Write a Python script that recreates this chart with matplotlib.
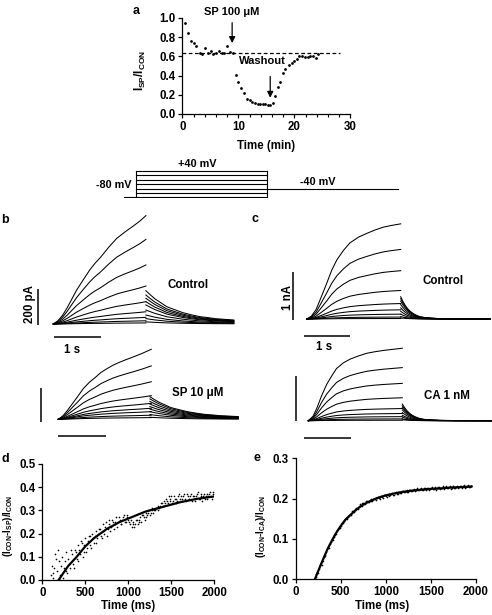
import numpy as np
import matplotlib
matplotlib.use('Agg')
import matplotlib.pyplot as plt
from matplotlib.ticker import MultipleLocator, FormatStrFormatter

plt.rcParams['font.family'] = ['Liberation Sans', 'DejaVu Sans']
plt.rcParams['font.weight'] = 'bold'
plt.rcParams['mathtext.fontset'] = 'custom'
plt.rcParams['mathtext.rm'] = 'Liberation Sans:bold'
plt.rcParams['mathtext.bf'] = 'Liberation Sans:bold'
plt.rcParams['mathtext.it'] = 'Liberation Sans:bold'
plt.rcParams['mathtext.default'] = 'bf'

# ---------------- data ----------------
# panel a: time course of I_SP/I_CON
a_time = [0.49, 1.06, 1.58, 2.1, 2.52, 3.14, 3.56, 4.08, 4.6, 5.12, 5.54, 6.06, 6.58, 7.0, 7.52, 8.04, 8.56, 8.97,
          9.6, 10.0, 10.5, 11.1, 11.5, 12.0, 12.4, 12.9, 13.45, 13.9, 14.4, 14.8, 15.3, 15.7, 16.2, 16.6, 17.0, 17.5,
          18.0, 18.4, 19.1, 19.6, 20.0, 20.4, 20.9, 21.4, 21.9, 22.4, 22.8, 23.3, 23.8, 24.3]
a_ratio = [0.95, 0.84, 0.76, 0.74, 0.71, 0.64, 0.63, 0.69, 0.64, 0.66, 0.62, 0.64, 0.66, 0.64, 0.64, 0.71, 0.65, 0.64,
           0.41, 0.33, 0.27, 0.22, 0.16, 0.15, 0.12, 0.11, 0.10, 0.10, 0.10, 0.10, 0.09, 0.09, 0.11, 0.19, 0.28, 0.33,
           0.43, 0.47, 0.51, 0.53, 0.55, 0.57, 0.60, 0.60, 0.59, 0.59, 0.60, 0.60, 0.58, 0.62]
a_ref_level = 0.635
a_sp_time = 8.9
a_wash_time = 15.7

# voltage protocol (mV, s)
prot_levels = [40, 20, 0, -20, -40, -60, -80]
prot_hold = -80
prot_tail = -40
prot_pre, prot_step, prot_tail_dur = 0.18, 2.0, 2.0

# panel b: currents (pA). normalised activation / tail time courses and amplitudes
b_con_t = [0, 0.1, 0.2, 0.3, 0.4, 0.5, 0.65, 0.79, 0.9, 1.01, 1.2, 1.37, 1.55, 1.73, 1.87, 2.0]
b_con_shape = [0, 0.03, 0.08, 0.15, 0.23, 0.31, 0.41, 0.50, 0.56, 0.61, 0.71, 0.79, 0.85, 0.905, 0.95, 1.0]
b_sp_t = [0, 0.1, 0.2, 0.3, 0.4, 0.54, 0.67, 0.8, 0.92, 1.04, 1.17, 1.3, 1.45, 1.61, 1.8, 2.0]
b_sp_shape = [0, 0.05, 0.13, 0.22, 0.31, 0.44, 0.53, 0.60, 0.67, 0.72, 0.77, 0.81, 0.85, 0.89, 0.94, 1.0]
b_tail_t = [0, 0.1, 0.2, 0.3, 0.45, 0.6, 0.8, 1.0, 1.17, 1.35, 1.5, 1.7, 1.9]
b_tail_shape = [1, 0.87, 0.75, 0.66, 0.52, 0.44, 0.34, 0.27, 0.22, 0.19, 0.16, 0.14, 0.12]
b_con_amp = [602, 470, 328, 211, 124, 68, 37, 18, 6]
b_con_tail = [185, 161, 143, 124, 106, 78, 50, 30, 12]
b_sp_amp = [412, 314, 221, 139, 94, 65, 45, 24, 10]
b_sp_tail = [133, 120, 105, 90, 75, 60, 45, 28, 12]

# panel c: currents (nA)
c_con_t = [0, 0.1, 0.2, 0.3, 0.43, 0.53, 0.64, 0.78, 0.92, 1.1, 1.28, 1.45, 1.63, 1.8, 2.0]
c_con_shape = [0, 0.03, 0.10, 0.22, 0.38, 0.51, 0.62, 0.72, 0.80, 0.86, 0.90, 0.935, 0.965, 0.983, 1.0]
c_ca_t = [0, 0.1, 0.18, 0.28, 0.39, 0.5, 0.6, 0.75, 0.89, 1.05, 1.24, 1.4, 1.6, 1.8, 2.0]
c_ca_shape = [0, 0.06, 0.17, 0.34, 0.50, 0.62, 0.72, 0.80, 0.85, 0.89, 0.93, 0.95, 0.97, 0.985, 1.0]
c_tail_t = [0, 0.05, 0.1, 0.15, 0.2, 0.27, 0.35, 0.42, 0.5, 0.65, 0.8, 1.2, 1.9]
c_tail_shape = [1, 0.78, 0.6, 0.46, 0.35, 0.24, 0.15, 0.1, 0.07, 0.04, 0.02, 0.005, 0.0]
c_con_amp = [1.97, 1.44, 1.0, 0.59, 0.32, 0.19, 0.10, 0.04, 0.01]
c_con_tail = [0.46, 0.42, 0.37, 0.30, 0.23, 0.16, 0.10, 0.05, 0.02]
c_ca_amp = [1.61, 1.18, 0.83, 0.51, 0.27, 0.16, 0.09, 0.04, 0.01]
c_ca_tail = [0.37, 0.33, 0.29, 0.24, 0.18, 0.12, 0.08, 0.04, 0.02]

# panel d: (I_CON - I_SP)/I_CON vs time (ms)
d_fit_t = [190, 300, 400, 500, 600, 750, 900, 1000, 1200, 1400, 1600, 1800, 2000]
d_fit_v = [0, 0.06, 0.10, 0.145, 0.18, 0.22, 0.25, 0.265, 0.295, 0.315, 0.335, 0.35, 0.36]
d_pts1 = [0.02, 0.01, 0.05, 0.09, 0.13, 0.02, 0.06, 0.01, 0.08, 0.04, 0.09, 0.05, 0.11, 0.07, 0.13, 0.09,
          0.15, 0.11, 0.16, 0.12, 0.18, 0.14, 0.19, 0.15, 0.20, 0.16, 0.21, 0.18, 0.22, 0.19, 0.24, 0.20,
          0.25, 0.22, 0.26, 0.23, 0.25, 0.24, 0.27, 0.25, 0.26, 0.24, 0.27, 0.25, 0.28, 0.26, 0.24, 0.23,
          0.25, 0.24, 0.26, 0.25, 0.27, 0.28, 0.27, 0.29, 0.28, 0.30, 0.29, 0.31, 0.30, 0.31, 0.32, 0.31,
          0.33, 0.32, 0.34, 0.35, 0.33, 0.34, 0.36, 0.34, 0.35, 0.33, 0.36, 0.35, 0.34, 0.36, 0.35, 0.37,
          0.35, 0.36, 0.34, 0.36, 0.35, 0.37, 0.35, 0.36, 0.34, 0.37, 0.36, 0.35, 0.37, 0.36, 0.38]
d_pts2 = [0.06, 0.03, 0.11, 0.04, 0.08, 0.00, 0.10, 0.05, 0.12, 0.03, 0.07, 0.13, 0.08, 0.05, 0.12, 0.08,
          0.13, 0.17, 0.10, 0.15, 0.12, 0.17, 0.19, 0.14, 0.18, 0.19, 0.16, 0.20, 0.22, 0.18, 0.21, 0.23,
          0.19, 0.24, 0.21, 0.26, 0.22, 0.25, 0.23, 0.27, 0.24, 0.26, 0.28, 0.25, 0.27, 0.25, 0.26, 0.24,
          0.23, 0.26, 0.24, 0.26, 0.25, 0.28, 0.26, 0.27, 0.29, 0.28, 0.30, 0.29, 0.30, 0.31, 0.30, 0.32,
          0.33, 0.32, 0.33, 0.34, 0.36, 0.35, 0.33, 0.36, 0.35, 0.34, 0.37, 0.36, 0.35, 0.37, 0.34, 0.36,
          0.35, 0.37, 0.36, 0.34, 0.36, 0.38, 0.35, 0.37, 0.36, 0.35, 0.37, 0.36, 0.38, 0.35, 0.37]

# panel e: (I_CON - I_CA)/I_CON vs time (ms)
e_fit_t = [214, 250, 300, 350, 400, 450, 500, 550, 600, 650, 700, 750, 800, 900, 1000, 1100, 1200, 1300,
           1400, 1500, 1600, 1700, 1800, 1900, 1950]
e_fit_v = [0, 0.02, 0.047, 0.073, 0.095, 0.115, 0.132, 0.147, 0.158, 0.168, 0.177, 0.185, 0.191, 0.201,
           0.208, 0.213, 0.217, 0.220, 0.222, 0.224, 0.225, 0.227, 0.228, 0.229, 0.23]
e_pts1 = [0.005, 0.018, 0.026, 0.040, 0.045, 0.060, 0.066, 0.080, 0.086, 0.097, 0.104, 0.112, 0.121, 0.127,
          0.132, 0.141, 0.144, 0.152, 0.155, 0.160, 0.165, 0.168, 0.174, 0.176, 0.181, 0.184, 0.190, 0.187,
          0.193, 0.192, 0.196, 0.195, 0.199, 0.198, 0.202, 0.201, 0.205, 0.203, 0.208, 0.206, 0.210, 0.207,
          0.212, 0.209, 0.214, 0.211, 0.216, 0.213, 0.218, 0.215, 0.219, 0.216, 0.221, 0.218, 0.222, 0.219,
          0.223, 0.220, 0.224, 0.221, 0.226, 0.222, 0.225, 0.221, 0.227, 0.223, 0.226, 0.222, 0.228, 0.224,
          0.227, 0.223, 0.229, 0.225, 0.228, 0.224, 0.230, 0.226, 0.229, 0.225, 0.231, 0.227, 0.230, 0.226,
          0.232, 0.228, 0.231]
e_pts2 = [0.012, 0.015, 0.035, 0.036, 0.054, 0.058, 0.075, 0.078, 0.093, 0.096, 0.110, 0.113, 0.125, 0.126,
          0.138, 0.140, 0.150, 0.150, 0.160, 0.159, 0.168, 0.167, 0.176, 0.175, 0.186, 0.182, 0.189, 0.186,
          0.195, 0.191, 0.198, 0.195, 0.200, 0.197, 0.204, 0.200, 0.206, 0.202, 0.209, 0.205, 0.211, 0.208,
          0.213, 0.210, 0.215, 0.212, 0.217, 0.214, 0.219, 0.216, 0.220, 0.217, 0.222, 0.219, 0.223, 0.220,
          0.225, 0.221, 0.226, 0.222, 0.227, 0.223, 0.227, 0.224, 0.228, 0.224, 0.229, 0.225, 0.229, 0.225,
          0.230, 0.226, 0.230, 0.226, 0.231, 0.227, 0.231, 0.227, 0.232, 0.228, 0.232, 0.228, 0.233, 0.229,
          0.233, 0.229, 0.232]

# ---------------- figure ----------------
W, H = 492, 615
fig = plt.figure(figsize=(W / 100, H / 100), dpi=100)
FS = 8.3


def rect_px(x0, y0, x1, y1):
    return [x0 / W, 1 - y1 / H, (x1 - x0) / W, (y1 - y0) / H]


def ftext(x, y, s, **kw):
    kw.setdefault('ha', 'center')
    kw.setdefault('va', 'center')
    kw.setdefault('fontsize', FS)
    kw.setdefault('fontweight', 'bold')
    fig.text(x / W, 1 - y / H, s, **kw)


def mapped_axes(ox, oy, sx, sy, xlim, ylim):
    x0 = ox + xlim[0] * sx
    x1 = ox + xlim[1] * sx
    y1 = oy - ylim[0] * sy
    y0 = oy - ylim[1] * sy
    ax = fig.add_axes(rect_px(x0, y0, x1, y1))
    ax.set_xlim(xlim)
    ax.set_ylim(ylim)
    ax.axis('off')
    return ax


def style_axes(ax):
    for s in ['top', 'right']:
        ax.spines[s].set_visible(False)
    for s in ['left', 'bottom']:
        ax.spines[s].set_linewidth(0.9)
    ax.tick_params(direction='out', length=3, width=0.9, labelsize=FS, pad=2)
    ax.tick_params(which='minor', direction='out', length=2, width=0.8)
    for lab in ax.get_xticklabels() + ax.get_yticklabels():
        lab.set_fontweight('bold')


# ---- panel a ----
ax_a = fig.add_axes(rect_px(182.3, 18, 350.3, 114))
ax_a.set_xlim(0, 30)
ax_a.set_ylim(0, 1.0)
ax_a.plot(a_time, a_ratio, 'o', color='k', ms=2.0, mec='none', clip_on=False)
ax_a.plot([0, 28.2], [a_ref_level, a_ref_level], ls=(0, (3, 2)), color='k', lw=0.9)
ax_a.set_xticks([0, 10, 20, 30])
ax_a.xaxis.set_minor_locator(MultipleLocator(2))
ax_a.set_yticks([0, 0.2, 0.4, 0.6, 0.8, 1.0])
ax_a.yaxis.set_major_formatter(FormatStrFormatter('%.1f'))
style_axes(ax_a)
ax_a.annotate('', xy=(a_sp_time, 0.71), xytext=(a_sp_time, 0.98),
              arrowprops=dict(arrowstyle='-|>', color='k', lw=0.9, mutation_scale=9), annotation_clip=False)
ax_a.annotate('', xy=(a_wash_time, 0.14), xytext=(a_wash_time, 0.42),
              arrowprops=dict(arrowstyle='-|>', color='k', lw=0.9, mutation_scale=9), annotation_clip=False)
ftext(232, 12, 'SP 100 μM', fontsize=8)
ftext(262, 61, 'Washout', fontsize=8)
ftext(266, 146, 'Time (min)')
ftext(140, 70, 'I$_{SP}$/I$_{CON}$', rotation=90, fontsize=8.5)
ftext(136, 11, 'a', fontsize=9)

# ---- protocol ----
ax_p = mapped_axes(135.7, 179.8, 65.5, 26.3 / 120, (-0.2, 4.05), (-85, 45))
for v in prot_levels:
    ax_p.plot([0, prot_step], [v, v], color='k', lw=0.8)
ax_p.plot([0, 0], [min(prot_levels), max(prot_levels)], color='k', lw=0.8)
ax_p.plot([prot_step, prot_step], [min(prot_levels), max(prot_levels)], color='k', lw=0.8)
ax_p.plot([-prot_pre, 0], [prot_hold, prot_hold], color='k', lw=0.8)
ax_p.plot([prot_step, prot_step + prot_tail_dur], [prot_tail, prot_tail], color='k', lw=0.8)
ftext(197, 164, '+40 mV', fontsize=7.8)
ftext(132, 185, '-80 mV', fontsize=7.8, ha='right')
ftext(318, 182, '-40 mV', fontsize=7.8)


def draw_traces(ax, st, shape, amps, tails, tail_t, tail_shape, t_end):
    st = np.asarray(st, float)
    sv = np.asarray(shape, float)
    tt = t_end + np.asarray(tail_t, float)
    tv = np.asarray(tail_shape, float)
    for A, T in zip(amps, tails):
        ax.plot(st, A * sv, color='k', lw=0.75, clip_on=False)
        ax.plot(tt, T * tv, color='k', lw=0.75, clip_on=False)


def bar(ax, xs, ys):
    ax.plot(xs, ys, color='k', lw=1.1, clip_on=False, solid_capstyle='butt')


# ---- panel b ----
ax_b1 = mapped_axes(53.3, 324, 46.3, 36 / 200, (-0.6, 4.0), (-160, 640))
draw_traces(ax_b1, b_con_t, b_con_shape, b_con_amp, b_con_tail, b_tail_t, b_tail_shape, 2.0)
bar(ax_b1, [-0.32, -0.32], [-4, 196])
bar(ax_b1, [0.02, 1.02], [-74, -74])
ftext(30, 304, '200 pA', rotation=90)
ftext(72, 350, '1 s')
ftext(188, 285, 'Control')
ftext(5, 220, 'b', fontsize=9)

ax_b2 = mapped_axes(58.3, 419.3, 46.5, 0.17, (-0.6, 4.0), (-120, 450))
draw_traces(ax_b2, b_sp_t, b_sp_shape, b_sp_amp, b_sp_tail, b_tail_t, b_tail_shape, 1.97)
bar(ax_b2, [-0.37, -0.37], [-14, 186])
bar(ax_b2, [0.0, 1.02], [-98, -98])
ftext(198, 393, 'SP 10 μM')

# ---- panel c ----
ax_c1 = mapped_axes(306.7, 319, 47, 48.3, (-0.6, 3.9), (-0.7, 2.1))
draw_traces(ax_c1, c_con_t, c_con_shape, c_con_amp, c_con_tail, c_tail_t, c_tail_shape, 2.0)
bar(ax_c1, [-0.285, -0.285], [-0.02, 0.98])
bar(ax_c1, [-0.05, 0.92], [-0.35, -0.35])
ftext(288, 297, '1 nA', rotation=90)
ftext(324, 347, '1 s')
ftext(443, 281, 'Control')
ftext(255, 219, 'c', fontsize=9)

ax_c2 = mapped_axes(308.3, 420.7, 47, 45, (-0.6, 3.9), (-0.5, 1.7))
draw_traces(ax_c2, c_ca_t, c_ca_shape, c_ca_amp, c_ca_tail, c_tail_t, c_tail_shape, 2.0)
bar(ax_c2, [-0.27, -0.27], [0, 1.0])
bar(ax_c2, [-0.085, 0.91], [-0.38, -0.38])
ftext(447, 396, 'CA 1 nM')

# ---- panel d ----
ax_d = fig.add_axes(rect_px(42.3, 464, 214.3, 580))
ax_d.set_xlim(0, 2000)
ax_d.set_ylim(0, 0.5)
ax_d.plot(np.linspace(100, 1980, len(d_pts1)), d_pts1, 'o', color='k', ms=1.2, mec='none')
ax_d.plot(np.linspace(110, 1990, len(d_pts2)), d_pts2, 'o', color='k', ms=1.2, mec='none')
ax_d.plot(d_fit_t, d_fit_v, color='k', lw=1.6)
ax_d.set_xticks([0, 500, 1000, 1500, 2000])
ax_d.set_yticks([0, 0.1, 0.2, 0.3, 0.4, 0.5])
ax_d.yaxis.set_major_formatter(FormatStrFormatter('%.1f'))
style_axes(ax_d)
ftext(128, 606, 'Time (ms)')
ftext(8, 526, '(I$_{CON}$-I$_{SP}$)/I$_{CON}$', rotation=90, fontsize=7)
ftext(5, 459, 'd', fontsize=9)

# ---- panel e ----
ax_e = fig.add_axes(rect_px(295.7, 458.3, 476, 579))
ax_e.set_xlim(0, 2000)
ax_e.set_ylim(0, 0.3)
ax_e.plot(np.linspace(220, 1940, len(e_pts1)), e_pts1, 'o', color='k', ms=1.2, mec='none')
ax_e.plot(np.linspace(230, 1950, len(e_pts2)), e_pts2, 'o', color='k', ms=1.2, mec='none')
ax_e.plot(e_fit_t, e_fit_v, color='k', lw=1.6)
ax_e.set_xticks([0, 500, 1000, 1500, 2000])
ax_e.set_yticks([0, 0.1, 0.2, 0.3])
ax_e.yaxis.set_major_formatter(FormatStrFormatter('%.1f'))
style_axes(ax_e)
ftext(382, 606, 'Time (ms)')
ftext(261, 526, '(I$_{CON}$-I$_{CA}$)/I$_{CON}$', rotation=90, fontsize=7)
ftext(257, 458, 'e', fontsize=9)

fig.savefig('out.png', dpi=100)
